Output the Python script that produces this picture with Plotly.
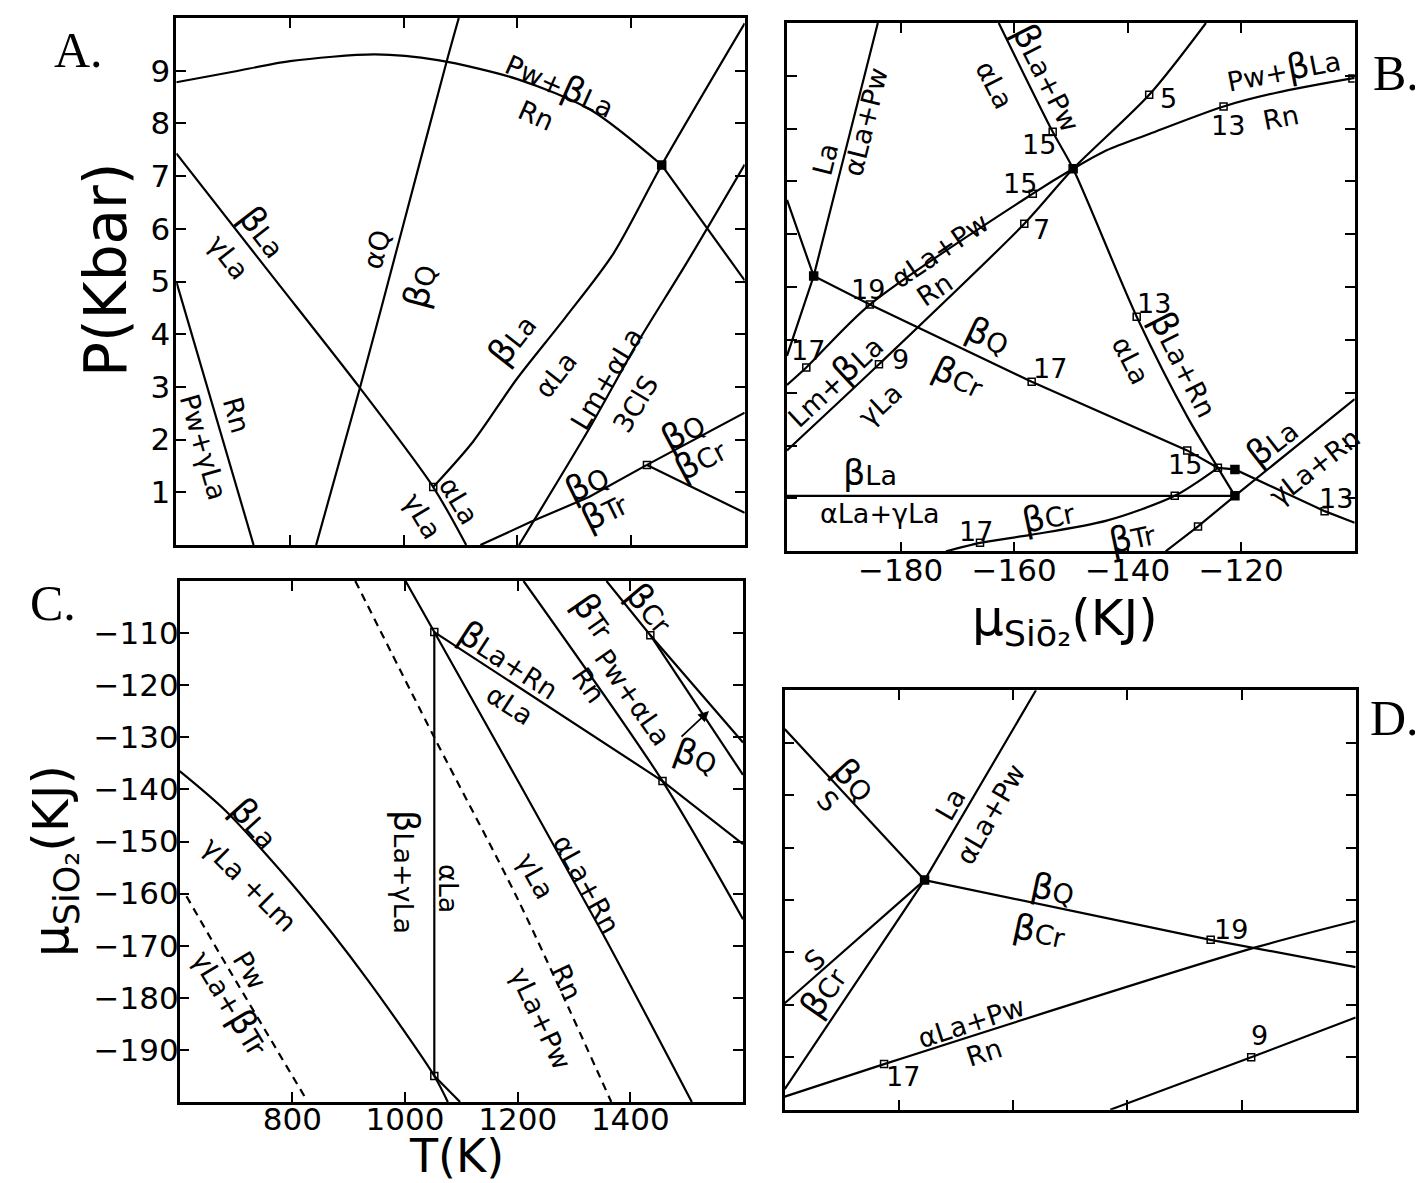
import plotly.graph_objects as go

W, H = 1423, 1183

# ---------------- Panel A : T (K) vs P (kbar) ----------------
A_xticks = [800, 1000, 1200, 1400]
A_yticks = [1, 2, 3, 4, 5, 6, 7, 8, 9]

A_top_T = [600, 700, 800, 950, 1060, 1200, 1330, 1454]
A_top_P = [8.78, 8.98, 9.18, 9.31, 9.20, 8.84, 8.25, 7.21]
A_topR_T = [1454, 1600]
A_topR_P = [7.21, 5.02]
A_blaala_T = [1052, 1122, 1199, 1284, 1369, 1454, 1600]
A_blaala_P = [1.10, 1.96, 3.15, 4.31, 5.53, 7.21, 9.90]
A_lm_T = [1203, 1326, 1411, 1496, 1600]
A_lm_P = [0.0, 2.20, 3.83, 5.32, 7.22]
A_bqbtr_T = [1135, 1224, 1326, 1428]
A_bqbtr_P = [0.0, 0.44, 0.91, 1.52]
A_bqbcr_T = [1428, 1600]
A_bqbcr_P = [1.52, 2.51]
A_bcrbtr_T = [1428, 1600]
A_bcrbtr_P = [1.52, 0.61]
A_aqbq_T = [846, 923, 1000, 1076, 1097]
A_aqbq_P = [0.0, 2.98, 6.10, 9.19, 10.0]
A_blagla_T = [600, 761, 923, 1052, 1110]
A_blagla_P = [7.43, 5.21, 2.98, 1.10, 0.0]
A_rnpw_T = [600, 736]
A_rnpw_P = [5.0, 0.0]
A_open_T = [1052, 1428]
A_open_P = [1.10, 1.52]
A_fill_T = [1454]
A_fill_P = [7.21]

# ---------------- Panel B : mu_SiO2 (kJ) vs P (kbar) ----------------
B_xticks = [-180, -160, -140, -120]
B_xtext = ["\u2212180", "\u2212160", "\u2212140", "\u2212120"]
B_yticks = [1, 2, 3, 4, 5, 6, 7, 8, 9]

B_L1_mu = [-200, -196.6, -185.4, -156.7, -149.6, -143.7, -136.2, -123.1, -113.8, -100]
B_L1_P = [3.15, 3.48, 4.67, 6.77, 7.24, 7.59, 7.90, 8.42, 8.68, 8.96]
B_L2_mu = [-200, -183.8, -158.2, -149.6, -136.2, -126.2]
B_L2_P = [1.91, 3.54, 6.20, 7.24, 8.64, 10.0]
B_L3_mu = [-200, -195.3, -185.4, -156.9, -129.5, -124.1, -121.1, -105.3, -100]
B_L3_P = [6.65, 5.21, 4.67, 3.21, 1.91, 1.58, 1.55, 0.76, 0.54]
B_L4_mu = [-162.7, -153.2, -149.6, -138.4, -129.4, -124.1, -121.1]
B_L4_P = [10.0, 7.94, 7.24, 4.44, 2.53, 1.58, 1.05]
B_La_mu = [-184.0, -195.3, -200]
B_La_P = [10.0, 5.21, 3.7]
B_hz_mu = [-200, -121.1]
B_hz_P = [1.05, 1.05]
B_bcr_mu = [-172, -166.0, -157.1, -143.7, -131.7, -124.1]
B_bcr_P = [0.0, 0.16, 0.31, 0.58, 1.05, 1.58]
B_L8_mu = [-133.3, -127.6, -121.1, -100]
B_L8_P = [0.0, 0.47, 1.05, 2.88]
B_open_mu = [-153.2, -136.2, -123.1, -156.7, -158.2, -185.4, -196.6, -183.8, -156.9,
             -138.4, -129.5, -124.1, -105.3, -131.7, -166.0, -127.6, -100.4]
B_open_P = [7.94, 8.64, 8.42, 6.77, 6.20, 4.67, 3.48, 3.54, 3.21,
            4.44, 1.91, 1.58, 0.76, 1.05, 0.16, 0.47, 8.95]
B_fill_mu = [-149.6, -195.3, -121.1, -121.1]
B_fill_P = [7.24, 5.21, 1.55, 1.05]

# ---------------- Panel C : T (K) vs mu_SiO2 (kJ) ----------------
C_xticks = [800, 1000, 1200, 1400]
C_yticks = [-110, -120, -130, -140, -150, -160, -170, -180, -190]
C_ytext = ["\u2212110", "\u2212120", "\u2212130", "\u2212140", "\u2212150",
           "\u2212160", "\u2212170", "\u2212180", "\u2212190"]

C_ag_T = [1000.9, 1052, 1344.6, 1509.1]
C_ag_mu = [-100, -109.8, -166.4, -200]
C_blarn_T = [1052, 1457.1, 1600]
C_blarn_mu = [-109.8, -138.4, -150.5]
C_btr_T = [1210.4, 1457.1, 1600]
C_btr_mu = [-100, -138.4, -164.9]
C_bcra_T = [1357.6, 1435.5, 1600]
C_bcra_mu = [-100, -110.4, -131.0]
C_bcrb_T = [1435.5, 1600]
C_bcrb_mu = [-110.4, -137.2]
C_bla_T = [600, 682.3, 812.1, 933.3, 1052, 1076]
C_bla_mu = [-136.5, -144.2, -159.8, -176.5, -195, -200]
C_blab_T = [1052, 1097.8]
C_blab_mu = [-195, -200]
C_vert_T = [1052, 1052]
C_vert_mu = [-109.8, -195]
C_dash1_T = [911.7, 1052.8, 1201.7, 1366.2]
C_dash1_mu = [-100, -130.2, -161.4, -200]
C_dash2_T = [612, 668, 822]
C_dash2_mu = [-160.5, -171.0, -199.0]
C_open_T = [1052, 1052, 1457.1, 1435.5]
C_open_mu = [-109.8, -195, -138.4, -110.4]

# ---------------- Panel D : mu_SiO2 (kJ) vs (unlabelled) ----------------
D_xticks = [-180, -160, -140, -120]
D_yticks = [1, 2, 3, 4, 5, 6, 7]

D_bqs_mu = [-200, -175.5]
D_bqs_y = [7.26, 4.38]
D_la_mu = [-156.0, -160.9, -175.5, -200]
D_la_y = [8.0, 7.09, 4.38, 0.39]
D_sbcr_mu = [-175.5, -200]
D_sbcr_y = [4.38, 2.03]
D_bqbcr_mu = [-175.5, -125.4, -100]
D_bqbcr_y = [4.38, 3.24, 2.72]
D_alarn_mu = [-200, -182.6, -117.4, -100]
D_alarn_y = [0.25, 0.87, 3.10, 3.60]
D_nine_mu = [-143, -118.3, -100]
D_nine_y = [0.0, 1.0, 1.76]
D_open_mu = [-125.4, -182.6, -118.3]
D_open_y = [3.24, 0.87, 1.0]
D_fill_mu = [-175.5]
D_fill_y = [4.38]

fig = go.Figure()


def line(x, y, ax, dash="solid", smooth=False):
    xa = "x" if ax == 1 else "x%d" % ax
    ya = "y" if ax == 1 else "y%d" % ax
    ln = dict(color="black", width=2.2, dash=dash)
    if smooth:
        ln.update(shape="spline", smoothing=0.8)
    fig.add_trace(go.Scatter(x=x, y=y, mode="lines", xaxis=xa, yaxis=ya, line=ln,
                             showlegend=False, hoverinfo="skip"))


def marks(x, y, ax, filled=False):
    xa = "x" if ax == 1 else "x%d" % ax
    ya = "y" if ax == 1 else "y%d" % ax
    fig.add_trace(go.Scatter(x=x, y=y, mode="markers", xaxis=xa, yaxis=ya,
                             marker=dict(symbol="square" if filled else "square-open",
                                         size=8 if filled else 7, color="black",
                                         line=dict(color="black", width=1.5)),
                             showlegend=False, hoverinfo="skip"))


# Panel A
line(A_top_T, A_top_P, 1, smooth=True)
line(A_topR_T, A_topR_P, 1)
line(A_blaala_T, A_blaala_P, 1, smooth=True)
line(A_lm_T, A_lm_P, 1, smooth=True)
line(A_bqbtr_T, A_bqbtr_P, 1)
line(A_bqbcr_T, A_bqbcr_P, 1)
line(A_bcrbtr_T, A_bcrbtr_P, 1)
line(A_aqbq_T, A_aqbq_P, 1, smooth=True)
line(A_blagla_T, A_blagla_P, 1, smooth=True)
line(A_rnpw_T, A_rnpw_P, 1)
marks(A_open_T, A_open_P, 1)
marks(A_fill_T, A_fill_P, 1, True)

# Panel B
line(B_L1_mu, B_L1_P, 2, smooth=True)
line(B_L2_mu, B_L2_P, 2, smooth=True)
line(B_L3_mu, B_L3_P, 2)
line(B_L4_mu, B_L4_P, 2, smooth=True)
line(B_La_mu, B_La_P, 2)
line(B_hz_mu, B_hz_P, 2)
line(B_bcr_mu, B_bcr_P, 2, smooth=True)
line(B_L8_mu, B_L8_P, 2)
marks(B_open_mu, B_open_P, 2)
marks(B_fill_mu, B_fill_P, 2, True)

# Panel C
line(C_ag_T, C_ag_mu, 3, smooth=True)
line(C_blarn_T, C_blarn_mu, 3)
line(C_btr_T, C_btr_mu, 3, smooth=True)
line(C_bcra_T, C_bcra_mu, 3)
line(C_bcrb_T, C_bcrb_mu, 3)
line(C_bla_T, C_bla_mu, 3, smooth=True)
line(C_blab_T, C_blab_mu, 3)
line(C_vert_T, C_vert_mu, 3)
line(C_dash1_T, C_dash1_mu, 3, "8px,6px", smooth=True)
line(C_dash2_T, C_dash2_mu, 3, "8px,6px")
marks(C_open_T, C_open_mu, 3)

# Panel D
line(D_bqs_mu, D_bqs_y, 4)
line(D_la_mu, D_la_y, 4)
line(D_sbcr_mu, D_sbcr_y, 4)
line(D_bqbcr_mu, D_bqbcr_y, 4)
line(D_alarn_mu, D_alarn_y, 4, smooth=True)
line(D_nine_mu, D_nine_y, 4)
marks(D_open_mu, D_open_y, 4)
marks(D_fill_mu, D_fill_y, 4, True)

TICKFONT = dict(family="DejaVu Sans", size=31, color="black")


def axis(domain, rng, tickvals, ticktext=None, show=False, anchor=None, standoff=0):
    d = dict(domain=domain, range=rng, showline=True, linecolor="black", linewidth=2.5,
             mirror="ticks", ticks="inside", ticklen=10, tickwidth=2, tickcolor="black",
             showgrid=False, zeroline=False, tickvals=tickvals, showticklabels=show,
             tickfont=TICKFONT, fixedrange=True, anchor=anchor, ticklabelstandoff=standoff)
    if ticktext is not None:
        d["ticktext"] = ticktext
    return d


fig.update_layout(
    width=W, height=H, autosize=False,
    margin=dict(l=0, r=0, t=0, b=0),
    paper_bgcolor="white", plot_bgcolor="white",
    xaxis=axis([168.3 / W, 736.7 / W], [600, 1600], A_xticks, anchor="y"),
    yaxis=axis([1 - 537 / H, 1 - 10 / H], [0, 10], A_yticks,
               [str(v) for v in A_yticks], True, anchor="x", standoff=-3),
    xaxis2=axis([779 / W, 1346.7 / W], [-200, -100], B_xticks, B_xtext, True,
                anchor="y2", standoff=-10),
    yaxis2=axis([1 - 543.3 / H, 1 - 15 / H], [0, 10], B_yticks, anchor="x2"),
    xaxis3=axis([171.7 / W, 735 / W], [600, 1600], C_xticks,
                [str(v) for v in C_xticks], True, anchor="y3", standoff=-12),
    yaxis3=axis([1 - 1094 / H, 1 - 573 / H], [-200, -100], C_yticks, C_ytext, True,
                anchor="x3", standoff=-8),
    xaxis4=axis([776.7 / W, 1347.7 / W], [-200, -100], D_xticks, anchor="y4"),
    yaxis4=axis([1 - 1101.7 / H, 1 - 682.3 / H], [0, 8], D_yticks, anchor="x4"),
)

BETA = '<span style="font-size:35px">\u03b2</span>'


def fmt(s):
    return s.replace("\u03b2", BETA)


# (text, x_px, y_px, angle)
labels = [
    # Panel A
    ("Pw+\u03b2La", 552, 76, 24), ("Rn", 528, 108, 24),
    ("\u03b2La", 255, 224, 52), ("\u03b3La", 221, 249, 52),
    ("\u03b1Q", 369, 242, -75), ("\u03b2Q", 412, 278, -75),
    ("\u03b2La", 504, 331, -52), ("\u03b1La", 547, 367, -52),
    ("Lm+\u03b1La", 598, 371, -59), ("3ClS", 627, 396, -59),
    ("\u03b2Q", 675, 423, -28), ("\u03b2Cr", 692, 451, -28),
    ("\u03b2Q", 579, 475, -26), ("\u03b2Tr", 596, 503, -26),
    ("\u03b3La", 415, 508, 59), ("\u03b1La", 451, 492, 59),
    ("Rn", 229, 407, 74), ("Pw+\u03b3La", 195, 439, 74),
    # Panel B
    ("La", 817, 151, -76), ("\u03b1La+Pw", 857, 114, -76),
    ("\u03b1La", 987, 77, 63), ("\u03b2La+Pw", 1040, 69, 63),
    ("15", 1031, 137, 0), ("5", 1160, 91, 0),
    ("Pw+\u03b2La", 1275, 61, -11), ("13", 1220, 118, 0), ("Rn", 1273, 110, -11),
    ("15", 1012, 176, 0), ("7", 1033, 221, 0),
    ("19", 860, 282, 0), ("\u03b1La+Pw", 932, 243, -34), ("Rn", 927, 282, -34),
    ("17", 800, 342, 0), ("Lm+\u03b2La", 826, 372, -43), ("\u03b3La", 872, 396, -43),
    ("9", 893, 352, 0),
    ("\u03b2Q", 980, 328, 25), ("\u03b2Cr", 951, 369, 25), ("17", 1042, 361, 0),
    ("13", 1146, 295, 0), ("\u03b2La+Rn", 1177, 356, 63), ("\u03b1La", 1122, 352, 63),
    ("15", 1177, 457, 0),
    ("\u03b2La", 1264, 434, -38), ("\u03b3La+Rn", 1307, 459, -38), ("13", 1328, 490, 0),
    ("\u03b2La", 862, 465, 0), ("\u03b1La+\u03b3La", 872, 506, 0),
    ("17", 968, 523, 0), ("\u03b2Cr", 1040, 508, -12), ("\u03b2Tr", 1124, 529, -12),
    # Panel C
    ("\u03b2La+Rn", 501, 652, 33), ("\u03b1La", 501, 697, 33),
    ("\u03b2Tr", 586, 608, 55), ("Pw+\u03b1La", 625, 689, 55), ("Rn", 581, 677, 55),
    ("\u03b2Cr", 642, 600, 50), ("\u03b2Q", 688, 748, 20),
    ("\u03b2La", 247, 815, 48), ("\u03b3La +Lm", 242, 876, 45),
    ("Pw", 242, 962, 59), ("\u03b3La+\u03b2Tr", 223, 994, 59),
    ("\u03b2La+\u03b3La", 398, 864, 90), ("\u03b1La", 440, 880, 90),
    ("\u03b1La+Rn", 579, 876, 61), ("\u03b3La", 528, 868, 61),
    ("Rn", 559, 974, 65), ("\u03b3La+Pw", 533, 1010, 65),
    # Panel D
    ("\u03b2Q", 846, 772, 47), ("S", 819, 793, 47),
    ("La", 942, 796, -60), ("\u03b1La+Pw", 982, 806, -60),
    ("\u03b2Q", 1045, 881, 12), ("\u03b2Cr", 1031, 923, 12), ("19", 1223, 921, 0),
    ("S", 806, 952, -41), ("\u03b2Cr", 815, 984, -55),
    ("\u03b1La+Pw", 963, 1014, -18), ("Rn", 976, 1044, -18),
    ("17", 895, 1068, 0), ("9", 1251, 1027, 0),
]

ann = []
for txt, px, py, ang in labels:
    ann.append(dict(text=fmt(txt), x=px / W, y=1 - py / H, xref="paper", yref="paper",
                    xanchor="center", yanchor="middle", showarrow=False, textangle=ang,
                    font=dict(family="DejaVu Sans", size=27, color="black")))

# arrow in panel C
ann.append(dict(text="", x=701 / W, y=1 - 703 / H, xref="paper", yref="paper",
                ax=-29, ay=27, axref="pixel", ayref="pixel",
                showarrow=True, arrowhead=2, arrowsize=1.2, arrowwidth=1.8, arrowcolor="black"))

# axis titles
titles = [
    ("P(Kbar)", 98, 262, -90, 58),
    ("\u03bc<sub>SiO\u2082</sub>(KJ)", 46, 853, -90, 50),
    ("T(K)", 448, 1148, 0, 46),
    ("\u03bc<sub>Si\u014d\u2082</sub>(KJ)", 1057, 613, 0, 50),
]
for txt, px, py, ang, sz in titles:
    ann.append(dict(text=txt, x=px / W, y=1 - py / H, xref="paper", yref="paper",
                    xanchor="center", yanchor="middle", showarrow=False, textangle=ang,
                    font=dict(family="DejaVu Sans", size=sz, color="black")))

# panel letters
for txt, px, py in [("A.", 70, 42), ("B.", 1388, 65), ("C.", 45, 595), ("D.", 1386, 710)]:
    ann.append(dict(text=txt, x=px / W, y=1 - py / H, xref="paper", yref="paper",
                    xanchor="center", yanchor="middle", showarrow=False,
                    font=dict(family="Liberation Serif", size=50, color="black")))

fig.update_layout(annotations=ann)
fig.write_html("out.html")
